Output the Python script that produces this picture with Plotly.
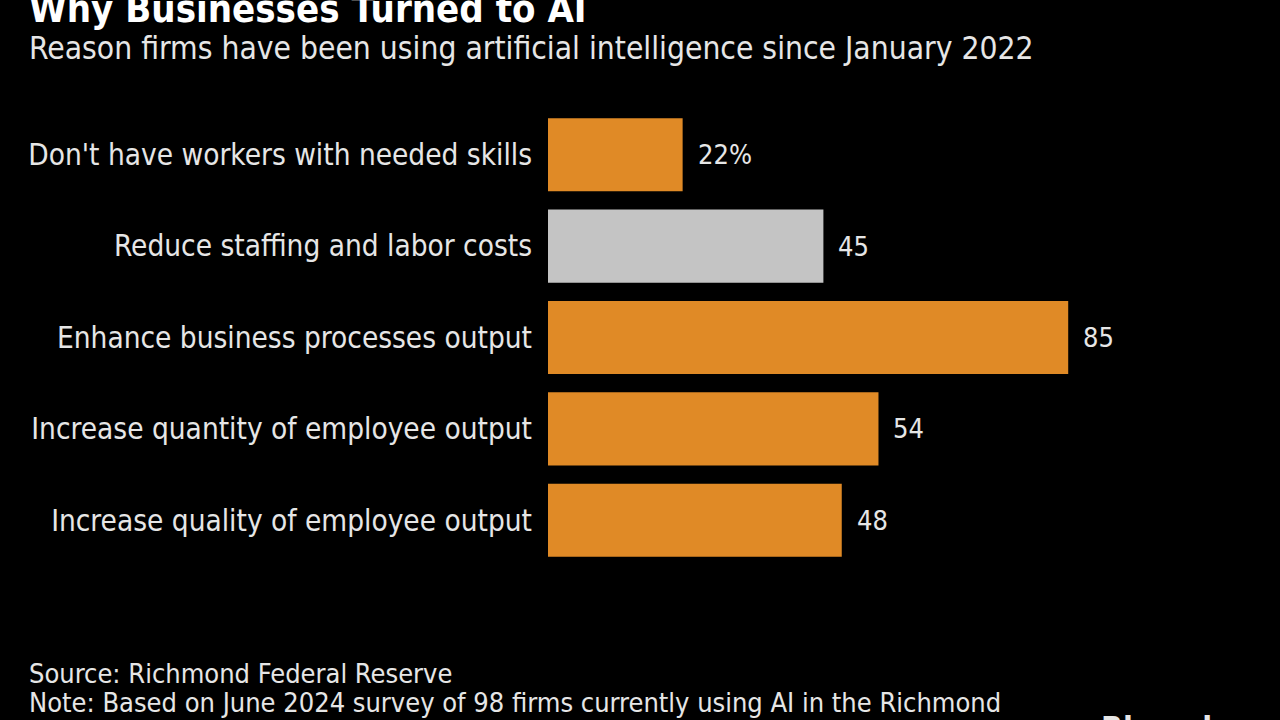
import plotly.graph_objects as go

categories = [
    "Don't have workers with needed skills",
    "Reduce staffing and labor costs",
    "Enhance business processes output",
    "Increase quantity of employee output",
    "Increase quality of employee output",
]
values = [22, 45, 85, 54, 48]
value_labels = ["22%", "45", "85", "54", "48"]
bar_colors = ["#E08A26", "#C4C4C4", "#E08A26", "#E08A26", "#E08A26"]

FONT = "DejaVu Sans Condensed, DejaVu Sans"
TXT = "#E6E6E6"
PW, PH = 612, 457  # plot width/height in px

fig = go.Figure(go.Bar(
    x=values, y=categories, orientation="h",
    marker=dict(color=bar_colors, line=dict(width=0)),
    width=0.8,
    hoverinfo="skip",
))

annotations = [
    dict(x=v, y=c, xref="x", yref="y", text=t, showarrow=False,
         xanchor="left", yanchor="middle", xshift=13,
         font=dict(family=FONT, size=27, color=TXT))
    for v, c, t in zip(values, categories, value_labels)
]

annotations += [
    dict(text="<b>Why Businesses Turned to AI</b>", xref="paper", yref="paper",
         x=-521/PW, y=1 + (109 - 9) / PH, xanchor="left", yanchor="middle",
         showarrow=False, font=dict(family=FONT, size=38, color="white")),
    dict(text="Reason firms have been using artificial intelligence since January 2022",
         xref="paper", yref="paper",
         x=-521/PW, y=1 + (109 - 48) / PH, xanchor="left", yanchor="middle",
         showarrow=False, font=dict(family=FONT, size=31.5, color=TXT)),
    dict(text="Source: Richmond Federal Reserve",
         xref="paper", yref="paper",
         x=-521/PW, y=-(673 - 566) / PH, xanchor="left", yanchor="middle",
         showarrow=False, font=dict(family=FONT, size=27, color=TXT)),
    dict(text="Note: Based on June 2024 survey of 98 firms currently using AI in the Richmond",
         xref="paper", yref="paper",
         x=-521/PW, y=-(702 - 566) / PH, xanchor="left", yanchor="middle",
         showarrow=False, font=dict(family=FONT, size=27, color=TXT)),
    dict(text="<b>Bloomberg</b>",
         xref="paper", yref="paper",
         x=(1099 - 548) / PW, y=-(707 - 566) / PH, xanchor="left", yanchor="top",
         showarrow=False, font=dict(family=FONT, size=32, color=TXT)),
]

fig.update_layout(
    width=1280, height=720,
    paper_bgcolor="black", plot_bgcolor="black",
    margin=dict(l=548, r=120, t=109, b=154),
    showlegend=False,
    xaxis=dict(range=[0, 100], visible=False, fixedrange=True),
    yaxis=dict(autorange="reversed", showgrid=False, zeroline=False,
               ticks="", ticklabelstandoff=15, fixedrange=True,
               tickfont=dict(family=FONT, size=29.5, color=TXT)),
    annotations=annotations,
)

fig.write_html(
    "out.html",
    config={"displayModeBar": False},
    post_script="document.body.style.margin='0';document.body.style.background='black';",
)
